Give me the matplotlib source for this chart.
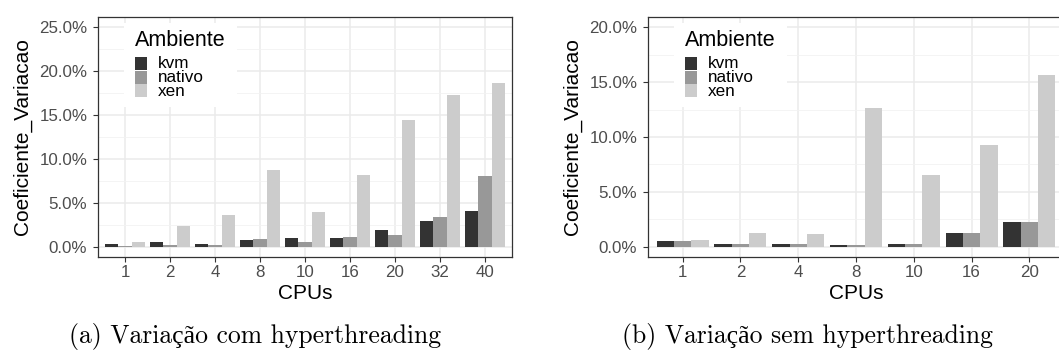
import matplotlib
matplotlib.use("Agg")
import matplotlib.pyplot as plt
from matplotlib.patches import Rectangle
from matplotlib.ticker import FuncFormatter, MultipleLocator
import numpy as np

# ---- data ----
envs = ["kvm", "nativo", "xen"]
colors = ["#333333", "#989898", "#CCCCCC"]

cpus_a = ["1", "2", "4", "8", "10", "16", "20", "32", "40"]
kvm_a = [0.38, 0.51, 0.30, 0.83, 1.02, 1.02, 1.93, 2.95, 4.08]
nativo_a = [0.15, 0.17, 0.27, 0.93, 0.62, 1.15, 1.32, 3.44, 8.09]
xen_a = [0.55, 2.33, 3.63, 8.74, 4.01, 8.21, 14.41, 17.28, 18.65]

cpus_b = ["1", "2", "4", "8", "10", "16", "20"]
kvm_b = [0.50, 0.30, 0.30, 0.21, 0.24, 1.27, 2.24]
nativo_b = [0.50, 0.30, 0.30, 0.21, 0.24, 1.27, 2.24]
xen_b = [0.66, 1.24, 1.20, 12.65, 6.50, 9.23, 15.60]

legend_title = "Ambiente"
caption_a = "(a) Variação com hyperthreading"
caption_b = "(b) Variação sem hyperthreading"

plt.rcParams['font.family'] = ['Liberation Sans', 'DejaVu Sans']

W, H = 1059, 354
fig = plt.figure(figsize=(W / 100, H / 100), dpi=100)


def panel(rect, cats, series, ylim, ymax_tick):
    ax = fig.add_axes(rect)
    axw = rect[2] * W
    axh = rect[3] * H
    n = len(cats)
    x = np.arange(1, n + 1)
    w = 0.3
    for k, (vals, c) in enumerate(zip(series, colors)):
        ax.bar(x + (k - 1) * w, vals, width=w, color=c, edgecolor='none',
               zorder=3, label=envs[k])
    ax.set_xlim(0.4, n + 0.6)
    ax.set_ylim(*ylim)
    ax.set_xticks(x)
    ax.set_xticklabels(cats)
    ax.yaxis.set_minor_locator(MultipleLocator(2.5))
    ax.yaxis.set_major_formatter(FuncFormatter(lambda v, p: f"{v:.1f}%"))
    ax.set_yticks(np.arange(0, ymax_tick + 0.1, 5))
    ax.grid(True, which='major', color='#EBEBEB', linewidth=1.1, zorder=0)
    ax.grid(True, which='minor', axis='y', color='#F2F2F2', linewidth=0.6, zorder=0)
    ax.set_axisbelow(True)
    for s in ax.spines.values():
        s.set_color('#333333')
        s.set_linewidth(0.9)
    ax.tick_params(axis='both', which='major', length=3.7, width=0.8,
                   color='#333333', labelcolor='#4D4D4D', labelsize=12.2)
    ax.tick_params(axis='y', which='minor', length=0)
    ax.tick_params(axis='x', pad=2)
    ax.tick_params(axis='y', pad=4)
    ax.set_xlabel("CPUs", fontsize=15, labelpad=3)
    ax.set_ylabel("Coeficiente_Variacao", fontsize=15, labelpad=5)

    # legend drawn in pixel offsets from the panel's top-left corner
    def fx(px):
        return px / axw

    def fy(py):
        return 1 - py / axh

    ax.add_patch(Rectangle((fx(26), fy(90)), fx(113), 84 / axh,
                           transform=ax.transAxes, facecolor='white',
                           edgecolor='none', zorder=5))
    ax.text(fx(37), fy(23), legend_title, transform=ax.transAxes,
            fontsize=15.5, ha='left', va='center', zorder=6)
    key_tops = [40, 53.5, 67]
    for k, (lab, c) in enumerate(zip(envs, colors)):
        ax.add_patch(Rectangle((fx(37), fy(key_tops[k] + 13)), fx(12), 13 / axh,
                               transform=ax.transAxes, facecolor=c,
                               edgecolor='none', zorder=6))
        ax.text(fx(60), fy(key_tops[k] + 7), lab, transform=ax.transAxes,
                fontsize=12.3, ha='left', va='center', zorder=6)
    return ax


ax1 = panel([98 / W, 97 / H, 414 / W, 240 / H], cpus_a,
            [kvm_a, nativo_a, xen_a], (-1.14, 26.14), 25)
ax2 = panel([648 / W, 97 / H, 416 / W, 240 / H], cpus_b,
            [kvm_b, nativo_b, xen_b], (-0.91, 20.91), 20)

cap_fam = ['cmr10', 'Liberation Serif']
fig.text(255 / W, 1 - 337 / H, caption_a, ha='center', va='center',
         fontsize=18.5, family=cap_fam)
fig.text(807 / W, 1 - 337 / H, caption_b, ha='center', va='center',
         fontsize=18.5, family=cap_fam)

fig.savefig("out.png", dpi=100)
